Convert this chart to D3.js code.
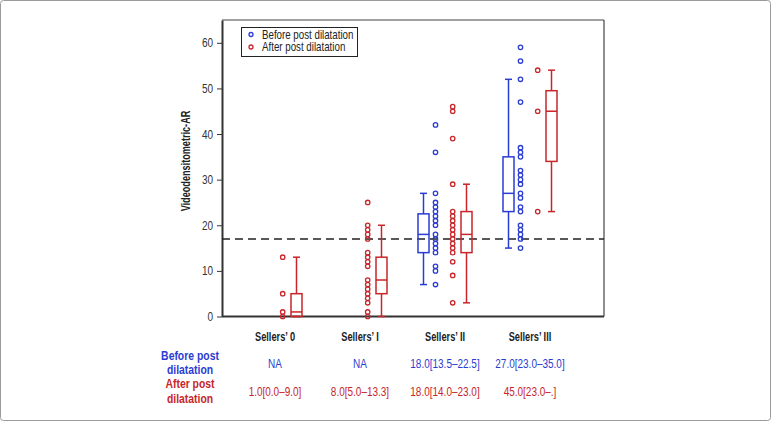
<!DOCTYPE html>
<html><head><meta charset="utf-8">
<script src="https://cdn.jsdelivr.net/npm/d3@7"></script>
<style>
body{margin:0;background:#fff;}
text{font-family:"Liberation Sans",Arial,sans-serif;}
</style></head>
<body><svg id="c" width="771" height="421"></svg>
<script>
const categories = ["Sellers\u2019 0","Sellers\u2019 I","Sellers\u2019 II","Sellers\u2019 III"];
const seriesNames = ["Before post dilatation","After post dilatation"];
// box stats [min, q1, median, q3, max]; null = not available
const beforeBoxes = [null, null, [7,14,18,22.5,27], [15,23,27,35,52]];
const afterBoxes  = [[0,0,1,5,13], [0,5,8,13,20], [3,14,18,23,29], [23,34,45,49.5,54]];
// individual points
const beforePoints = [
  [],
  [],
  [42,36,27,25,24,23,22,21,20,18,17,16,15,14,11,10,7],
  [59,56,52,47,37,36,35,32,31,30,29,27,26,24,23,20,19,18,17,15]
];
const afterPoints = [
  [13,5,1,0],
  [25,20,19,18,17,14,13,12,11,8,7,6,5,4,3,1,0],
  [46,45,39,29,23,22,21,20,19,18,17,16,15,14,12,9,3],
  [54,45,23]
];
const refLine = 17;
const yTicks = [0,10,20,30,40,50,60];
const yLabel = "Videodensitometric-AR";
const tableBefore = ["NA","NA","18.0[13.5\u201322.5]","27.0[23.0\u201335.0]"];
const tableAfter  = ["1.0[0.0\u20139.0]","8.0[5.0\u201313.3]","18.0[14.0\u201323.0]","45.0[23.0\u2013.]"];
const rowLabelBefore = ["Before post","dilatation"];
const rowLabelAfter  = ["After post","dilatation"];

const BLUE = "#2b3cd2", RED = "#c8262a";
const svg = d3.select("#c");
const L = 222, R = 604, T = 20, B = 316.5;

// narrow text helper (condensed look via horizontal scaling)
function ntext(parent, x, y, str, o){
  return parent.append("text")
    .attr("transform",`translate(${x},${y}) ${o.rot?`rotate(${o.rot})`:""} scale(${o.sx||0.8},1)`)
    .attr("text-anchor",o.anchor||"middle").attr("font-size",o.size||12)
    .attr("font-weight",o.bold?"bold":"normal").attr("fill",o.fill||"#222").text(str);
}

svg.append("rect").attr("x",0.5).attr("y",0.5).attr("width",770).attr("height",420)
  .attr("rx",3).attr("fill","none").attr("stroke","#9a9a9a").attr("stroke-width",1);

const x = d3.scalePoint().domain(categories).range([275,530]);
const y = d3.scaleLinear().domain([0,65]).range([B,T]);

// frame
svg.append("line").attr("x1",L).attr("x2",R).attr("y1",T).attr("y2",T).attr("stroke","#444").attr("stroke-width",1.2);
svg.append("line").attr("x1",R).attr("x2",R).attr("y1",T).attr("y2",B).attr("stroke","#444").attr("stroke-width",1.2);
svg.append("line").attr("x1",L).attr("x2",R).attr("y1",B).attr("y2",B).attr("stroke","#333").attr("stroke-width",2);

// y axis
const ya = svg.append("g").attr("transform",`translate(${L},0)`)
  .call(d3.axisLeft(y).tickValues(yTicks).tickSize(5).tickSizeOuter(0).tickFormat(""));
ya.select(".domain").attr("stroke","#333").attr("stroke-width",2);
ya.selectAll(".tick line").attr("stroke","#333").attr("stroke-width",1);
yTicks.forEach(v=>ntext(svg, 213, y(v)+4.5, String(v), {anchor:"end", size:12.5, sx:0.8, fill:"#333"}));

ntext(svg, 190, 161, yLabel, {rot:-90, size:12.5, bold:true, sx:0.73});

// reference line
svg.append("line").attr("x1",L).attr("x2",R).attr("y1",y(refLine)).attr("y2",y(refLine))
  .attr("stroke","#222").attr("stroke-width",1.4).attr("stroke-dasharray","8,5");

const offs = {before:{box:-21.5, pts:-9.5}, after:{box:21.5, pts:7.7}};
const bw = 11, cap = 7;
function drawBox(stats, cx, color){
  if(!stats) return;
  const [mn,q1,md,q3,mx] = stats;
  const g = svg.append("g").attr("stroke",color).attr("stroke-width",1.5).attr("fill","none");
  g.append("line").attr("x1",cx).attr("x2",cx).attr("y1",y(mx)).attr("y2",y(q3));
  g.append("line").attr("x1",cx).attr("x2",cx).attr("y1",y(q1)).attr("y2",y(mn));
  g.append("line").attr("x1",cx-cap/2).attr("x2",cx+cap/2).attr("y1",y(mx)).attr("y2",y(mx));
  g.append("line").attr("x1",cx-cap/2).attr("x2",cx+cap/2).attr("y1",y(mn)).attr("y2",y(mn));
  g.append("rect").attr("x",cx-bw/2).attr("width",bw).attr("y",y(q3)).attr("height",y(q1)-y(q3));
  g.append("line").attr("x1",cx-bw/2).attr("x2",cx+bw/2).attr("y1",y(md)).attr("y2",y(md));
}
function drawPts(pts, cx, color){
  svg.append("g").selectAll("circle").data(pts).join("circle")
    .attr("cx",cx).attr("cy",d=>y(d)).attr("r",2.2)
    .attr("fill","none").attr("stroke",color).attr("stroke-width",1.3);
}
categories.forEach((c,i)=>{
  const cx = x(c);
  drawBox(beforeBoxes[i], cx+offs.before.box, BLUE);
  drawPts(beforePoints[i], cx+offs.before.pts, BLUE);
  drawBox(afterBoxes[i], cx+offs.after.box, RED);
  drawPts(afterPoints[i], cx+offs.after.pts, RED);
});

// legend
const lg = svg.append("g");
lg.append("rect").attr("x",241.5).attr("y",27.5).attr("width",116).attr("height",29)
  .attr("fill","#fff").attr("stroke","#222").attr("stroke-width",1);
[[BLUE,seriesNames[0],34.5],[RED,seriesNames[1],47]].forEach(([col,t,yy])=>{
  lg.append("circle").attr("cx",251).attr("cy",yy).attr("r",2).attr("fill","none").attr("stroke",col).attr("stroke-width",1.3);
  ntext(lg, 262, yy+4.2, t, {anchor:"start", size:12.5, sx:0.78, fill:"#222"});
});

// table
categories.forEach((c,i)=>{
  ntext(svg, x(c), 340.5, c, {size:12.5, bold:true, sx:0.74});
  ntext(svg, x(c), 367.5, tableBefore[i], {size:12.5, sx:0.8, fill:BLUE});
  ntext(svg, x(c), 396, tableAfter[i], {size:12.5, sx:0.8, fill:RED});
});
rowLabelBefore.forEach((t,k)=>ntext(svg, 190, 359.5+k*14.5, t, {size:13, bold:true, sx:0.8, fill:BLUE}));
rowLabelAfter.forEach((t,k)=>ntext(svg, 190, 388+k*14.5, t, {size:13, bold:true, sx:0.8, fill:RED}));
</script></body></html>
